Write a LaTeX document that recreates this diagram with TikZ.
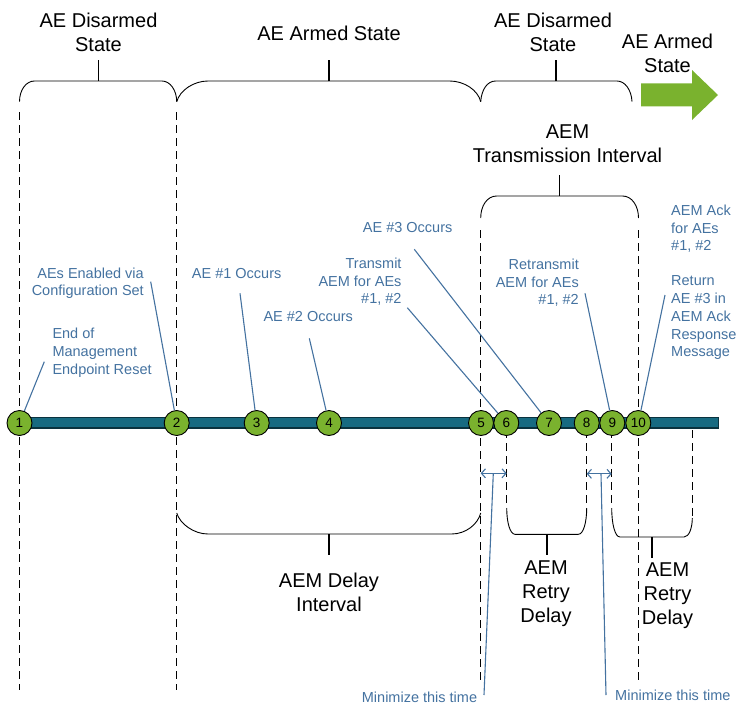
\documentclass[tikz,border=0pt]{standalone}
\usepackage{fontspec}
\setmainfont{Liberation Sans}
\usetikzlibrary{arrows.meta}
\definecolor{cgreen}{RGB}{122,178,46}
\definecolor{barteal}{RGB}{23,106,129}
\definecolor{bardark}{RGB}{10,50,62}
\definecolor{lblue}{RGB}{68,114,160}
\tikzset{
  big/.style={font=\fontsize{20}{24}\selectfont, align=center, inner sep=0, anchor=north},
  bluetxt/.style={font=\fontsize{14.5}{17.8}\selectfont, text=lblue, inner sep=0},
  circ/.style={circle, draw=black, line width=0.9, fill=cgreen, minimum size=25, inner sep=0, font=\fontsize{13.5}{14}\selectfont},
  dline/.style={dash pattern=on 8pt off 5pt, line width=1.5},
  leader/.style={draw=lblue, line width=1.1},
  bracep/.style={line width=0.9},
  tickp/.style={line width=1.6},
  dblarrow/.style={draw=lblue, line width=1.1, {Straight Barb[length=4pt,width=9pt]}-{Straight Barb[length=4pt,width=9pt]}},
}
\begin{document}
\begin{tikzpicture}[x=1pt,y=-1pt]
\useasboundingbox (0,0) rectangle (741,704);

% dashed guide lines
\draw[dline] (19.5,112) -- (19.5,690);
\draw[dline] (176.7,112) -- (176.7,690);
\draw[dline] (480.7,230) -- (480.7,682);
\draw[dline] (638.5,230) -- (638.5,680);
\draw[dline] (506.7,430) -- (506.7,508);
\draw[dline] (586.7,430) -- (586.7,508);
\draw[dline] (611.7,430) -- (611.7,508);
\draw[dline] (692.3,430) -- (692.3,518);

% top braces
\draw[bracep] (19.5,101.7) .. controls (19.5,90) and (26,81) .. (34.5,81) -- (162,81)
  .. controls (170,81) and (176.7,90) .. (176.7,101.7);
\draw[bracep] (176.7,101.7) .. controls (180,90) and (194,81) .. (208,81) -- (449.7,81)
  .. controls (464,81) and (478,90) .. (480.7,101.7);
\draw[bracep] (480.7,101.7) .. controls (481.5,90) and (487,81) .. (495.7,81) -- (617,81)
  .. controls (625,81) and (631.5,90) .. (632,101.7);
\draw[tickp] (98.5,81) -- (98.5,60);
\draw[tickp] (329,81) -- (329,60);
\draw[tickp] (556,81) -- (556,60);

% transmission interval brace
\draw[bracep] (480.7,218) .. controls (480.7,206) and (487,196) .. (496.7,196) -- (622.5,196)
  .. controls (632,196) and (638.5,206) .. (638.5,218);
\draw[tickp] (559.3,196) -- (559.3,175);

% bottom braces
\draw[bracep] (176.7,513) .. controls (180,524) and (194,534) .. (208,534) -- (451.7,534)
  .. controls (466,534) and (478,524) .. (480.7,513);
\draw[tickp] (329,534) -- (329,555);
\draw[bracep] (506.7,508) .. controls (506.7,522) and (510,534.3) .. (515,534.3) -- (578.3,534.3)
  .. controls (583.5,534.3) and (586.7,522) .. (586.7,508);
\draw[tickp] (546.7,534.3) -- (546.7,555);
\draw[bracep] (611.7,508) .. controls (611.7,524) and (615,537) .. (620,537) -- (684,537)
  .. controls (689,537) and (692.3,528) .. (692.3,518);
\draw[tickp] (651.7,537) -- (651.7,558);

% green arrow
\fill[cgreen] (641,83.3) -- (692,83.3) -- (692,70) -- (718,95) -- (692,120) -- (692,106.3) -- (641,106.3) -- cycle;

% timeline bar
\fill[barteal] (14,417.5) rectangle (718,428.5);
\draw[bardark, line width=0.6] (14,417.5) rectangle (718,428.5);
\draw[bardark, line width=1.4] (14,428) -- (718,428);

% circles
\node[circ] (c1) at (19.5,423) {1};
\node[circ] (c2) at (176.7,423) {2};
\node[circ] (c3) at (256.7,423) {3};
\node[circ] (c4) at (329,423) {4};
\node[circ] (c5) at (481,423) {5};
\node[circ] (c6) at (506.3,423) {6};
\node[circ] (c7) at (549,423) {7};
\node[circ] (c8) at (586.7,423) {8};
\node[circ] (c9) at (612.3,423) {9};
\node[circ] (c10) at (638.3,423) {10};

% big labels
\node[big] (t1) at (98.5,12.6) {AE Disarmed\\State};
\node[big] (t2) at (329,26) {AE Armed State};
\node[big] (t3) at (553,12.6) {AE Disarmed\\State};
\node[big] (t4) at (667.5,34.3) {AE Armed\\State};
\node[big] (t5) at (567.5,124.3) {AEM\\Transmission Interval};
\node[big] (t6) at (329,572.6) {AEM Delay\\Interval};
\node[big] (t7) at (546,560.6) {AEM\\Retry\\Delay};
\node[big] (t8) at (667.5,562.6) {AEM\\Retry\\Delay};

% blue labels
\node[bluetxt, anchor=north west, align=left] (b1) at (52.3,327.9) {End of\\Management\\Endpoint Reset};
\node[bluetxt, anchor=north east, align=right] (b2) at (144,267.3) {AEs Enabled via\\Configuration Set};
\node[bluetxt, anchor=north west] (b3) at (191.7,267.9) {AE \#1 Occurs};
\node[bluetxt, anchor=north west] (b4) at (263.3,311.3) {AE \#2 Occurs};
\node[bluetxt, anchor=north east, align=right] (b6) at (401.7,257.6) {Transmit\\AEM for AEs\\\#1, \#2};
\node[bluetxt, anchor=north west] (b7) at (362.7,222.6) {AE \#3 Occurs};
\node[bluetxt, anchor=north east, align=right] (b9) at (579,258.6) {Retransmit\\AEM for AEs\\\#1, \#2};
\node[bluetxt, anchor=north west, align=left] (b10a) at (671,204.6) {AEM Ack\\for AEs\\\#1, \#2};
\node[bluetxt, anchor=north west, align=left] (b10) at (671,275.6) {Return\\AE \#3 in\\AEM Ack\\Response\\Message};
\node[bluetxt, anchor=north west] (m1) at (361.7,691.6) {Minimize this time};
\node[bluetxt, anchor=north west] (m2) at (615,689.6) {Minimize this time};

% leader ends
\coordinate (e1) at (44.3,361.7);
\coordinate (e2) at (150.7,281.7);
\coordinate (e3) at (240,293.3);
\coordinate (e4) at (309.3,338.3);
\coordinate (e6) at (407.3,307.7);
\coordinate (e7) at (414.3,249.3);
\coordinate (e9) at (585,293.3);
\coordinate (e10) at (665,295);
\draw[leader] (c1) -- (e1);
\draw[leader] (c2) -- (e2);
\draw[leader] (c3) -- (e3);
\draw[leader] (c4) -- (e4);
\draw[leader] (c6) -- (e6);
\draw[leader] (c7) -- (e7);
\draw[leader] (c9) -- (e9);
\draw[leader] (c10) -- (e10);

% minimize arrows
\coordinate (a1l) at (480.7,473.3);
\coordinate (a1r) at (506.7,473.3);
\coordinate (a2l) at (586.7,473.8);
\coordinate (a2r) at (611.7,473.8);
\draw[dblarrow] (a1l) -- (a1r);
\draw[dblarrow] (a2l) -- (a2r);
\coordinate (a1m) at (493.3,473.3);
\coordinate (a2m) at (601,473.8);
\coordinate (m1e) at (484,695);
\coordinate (m2e) at (606,695);
\draw[leader] (m1e) -- (a1m);
\draw[leader] (m2e) -- (a2m);
\end{tikzpicture}
\end{document}
